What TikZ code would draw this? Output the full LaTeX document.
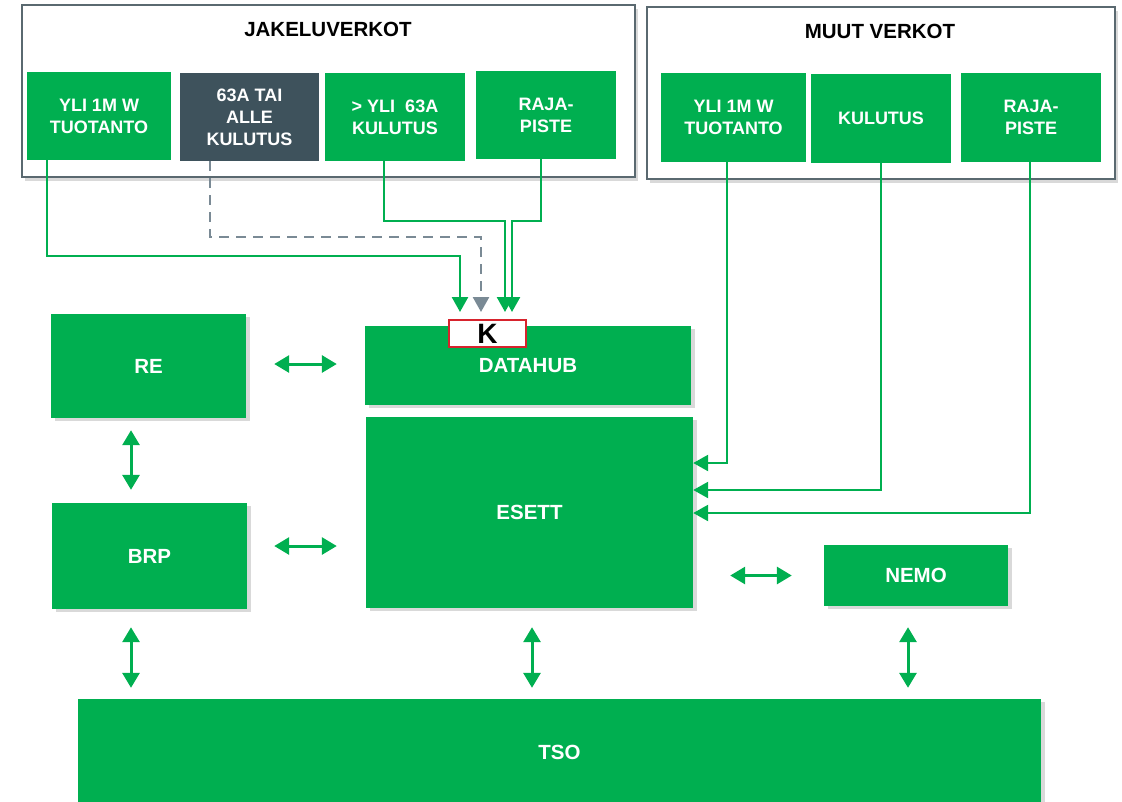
\documentclass[tikz,border=0pt]{standalone}
\usepackage{fontspec}
\setmainfont{Liberation Sans}
\usetikzlibrary{arrows.meta,shadows}
\definecolor{hubgreen}{RGB}{0,175,80}
\definecolor{slate}{RGB}{62,82,92}
\definecolor{dashgray}{RGB}{122,138,149}
\definecolor{framegray}{RGB}{90,105,112}
\definecolor{kred}{RGB}{215,35,45}

\begin{document}
\begin{tikzpicture}[x=1pt, y=-1pt,
	netframe/.style={draw=framegray, line width=2pt, fill=white, inner sep=0pt,
		drop shadow={opacity=0.3, shadow xshift=3pt, shadow yshift=-4pt}},
	gbox/.style={fill=hubgreen, text=white, inner sep=0pt, align=center,
		font=\bfseries\fontsize{18}{22}\selectfont},
	big/.style={font=\bfseries\fontsize{20.5}{24}\selectfont},
	shade/.style={drop shadow={opacity=0.3, shadow xshift=4pt, shadow yshift=-3pt}},
	flow/.style={hubgreen, line width=2.5pt, -{Triangle[length=15pt,width=16pt]}},
	dflow/.style={hubgreen, line width=3pt,
		{Triangle[length=15pt,width=17pt]}-{Triangle[length=15pt,width=17pt]}}]
	\useasboundingbox (0,0) rectangle (1122,801);

	\node[netframe, minimum width=613pt, minimum height=172pt] (jv) at (328.5,91) {};
	\node[netframe, minimum width=468pt, minimum height=172pt] (mv) at (881,93) {};
	\node[font=\bfseries\fontsize{20.5}{24}\selectfont] (jvt) at (328,29) {JAKELUVERKOT};
	\node[font=\bfseries\fontsize{20.5}{24}\selectfont] (mvt) at (880,31) {MUUT VERKOT};

	\node[gbox, minimum width=144pt, minimum height=88pt] (j1) at (99,116) {YLI 1M W\\TUOTANTO};
	\node[gbox, fill=slate, minimum width=139pt, minimum height=88pt] (j2) at (249.5,117) {63A TAI\\ALLE\\KULUTUS};
	\node[gbox, minimum width=140pt, minimum height=88pt] (j3) at (395,117) {> YLI\ \ 63A\\KULUTUS};
	\node[gbox, minimum width=140pt, minimum height=88pt] (j4) at (546,115) {RAJA-\\PISTE};
	\node[gbox, minimum width=145pt, minimum height=89pt] (m1) at (733.5,117.5) {YLI 1M W\\TUOTANTO};
	\node[gbox, minimum width=140pt, minimum height=89pt] (m2) at (881,118.5) {KULUTUS};
	\node[gbox, minimum width=140pt, minimum height=89pt] (m3) at (1031,117.5) {RAJA-\\PISTE};

	\node[gbox, big, shade, minimum width=195pt, minimum height=104pt] (re) at (148.5,366) {RE};
	\node[gbox, big, shade, minimum width=326pt, minimum height=79pt] (dh) at (528,365.5) {\raisebox{-3pt}{DATAHUB}};
	\node[gbox, big, shade, minimum width=195pt, minimum height=106pt] (brp) at (149.5,556) {BRP};
	\node[gbox, big, shade, minimum width=327pt, minimum height=191pt] (esett) at (529.5,512.5) {ESETT};
	\node[gbox, big, shade, minimum width=184pt, minimum height=61pt] (nemo) at (916,575.5) {NEMO};
	\node[gbox, big, shade, minimum width=963pt, minimum height=106pt] (tso) at (559.5,752) {TSO};
	\node[draw=kred, line width=2pt, fill=white, inner sep=0pt, minimum width=77pt, minimum height=27pt,
		font=\bfseries\fontsize{28}{30}\selectfont] (k) at (487.5,333.5) {K};

	\draw[flow] ([xshift=-52pt]j1.south) -- ++(0,96) -| ([xshift=-27.5pt,yshift=7pt]k.north);
	\draw[dashgray, line width=2.5pt, dash pattern=on 10pt off 7pt, -{Triangle[length=15pt,width=16pt]}]
		([xshift=-39.5pt]j2.south) -- ++(0,76) -| ([xshift=-6.5pt,yshift=7pt]k.north);
	\draw[flow] ([xshift=-11pt]j3.south) -- ++(0,60) -| ([xshift=17.5pt,yshift=7pt]k.north);
	\draw[flow] ([xshift=-5pt]j4.south) -- ++(0,62) -| ([xshift=24.5pt,yshift=7pt]k.north);

	\draw[flow] ([xshift=-6.5pt]m1.south) |- ([yshift=49.5pt]esett.east);
	\draw[flow] (m2.south) |- ([yshift=22.5pt]esett.east);
	\draw[flow] ([xshift=-1pt]m3.south) |- ([yshift=-0.5pt]esett.east);

	\draw[dflow, shorten <=28pt, shorten >=28pt] ([yshift=2pt]re.east) -- ([yshift=2pt]re.east -| dh.west);
	\draw[dflow, shorten <=12pt, shorten >=13pt] ([xshift=-17.5pt]re.south) -- ([xshift=-18.5pt]brp.north);
	\draw[dflow, shorten <=27pt, shorten >=29pt] ([yshift=10pt]brp.east) -- ([yshift=10pt]brp.east -| esett.west);
	\draw[dflow, shorten <=37pt, shorten >=32pt] (nemo.west -| esett.east) -- (nemo.west);
	\foreach \n/\dx/\gap in {brp/-18.5/18, esett/2.5/19, nemo/-8/21}
		\draw[dflow, shorten <=\gap pt, shorten >=11pt] ([xshift=\dx pt]\n.south) -- ([xshift=\dx pt]\n.south |- tso.north);

\end{tikzpicture}
\end{document}
